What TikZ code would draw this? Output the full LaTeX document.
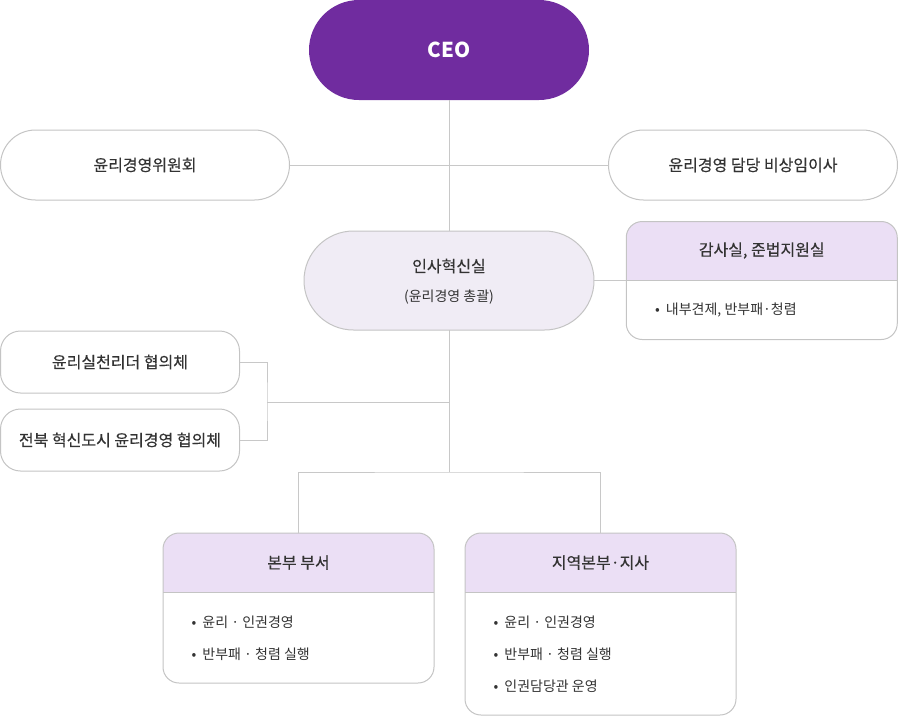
\documentclass[tikz,border=0pt]{standalone}
\usepackage{fontspec}
\setmainfont{Noto Sans CJK KR}
\newfontfamily\medfont[FakeBold=0.35]{Noto Sans CJK KR}
\usetikzlibrary{shapes.misc}
\definecolor{ceoc}{HTML}{702C9F}
\definecolor{ln}{HTML}{C8C8C8}
\definecolor{bd}{HTML}{C4C4C4}
\definecolor{tx}{HTML}{333333}
\definecolor{hrfill}{HTML}{F0ECF5}
\definecolor{hdr}{HTML}{EBDFF5}
\tikzset{
  pill/.style={rounded rectangle, draw=bd, line width=1pt, fill=white, inner sep=0pt, outer sep=0pt, text=tx, font=\medfont\fontsize{16}{19}\selectfont},
  sqbox/.style={rectangle, rounded corners=20pt, draw=bd, line width=1pt, fill=white, inner sep=0pt, outer sep=0pt, text=tx, font=\medfont\fontsize{16}{19}\selectfont, minimum width=239pt, minimum height=62pt},
  card/.style={rectangle, draw=bd, line width=1pt, fill=white, rounded corners=16pt, inner sep=0pt, outer sep=0pt, minimum width=271pt,
    path picture={\fill[hdr, sharp corners] (path picture bounding box.north west) rectangle ([yshift=-59pt]path picture bounding box.north east);
      \draw[bd, line width=1pt, sharp corners] ([yshift=-59pt]path picture bounding box.north west) -- ([yshift=-59pt]path picture bounding box.north east);}},
  title/.style={text=tx, font=\medfont\fontsize{16}{19}\selectfont, inner sep=0pt},
  item/.style={text=tx, font=\fontsize{14}{17}\selectfont, inner sep=0pt, anchor=west},
  conn/.style={draw=ln, line width=1pt}
}
\newcommand{\bul}{\textbullet\hspace{6pt}}
\begin{document}
\begin{tikzpicture}[x=1pt,y=-1pt]
\useasboundingbox (0,0) rectangle (898,716);
% nodes
\node[rounded rectangle, fill=ceoc, minimum width=280pt, minimum height=100pt, inner sep=0pt, outer sep=0pt, text=white, font=\fontsize{20.5}{24}\selectfont\bfseries] (ceo) at (449,50) {CEO};
\node[pill, minimum width=289pt, minimum height=70pt] (com) at (145,165) {윤리경영위원회};
\node[pill, minimum width=289pt, minimum height=70pt] (dir) at (753,165) {윤리경영 담당 비상임이사};
\node[pill, fill=hrfill, minimum width=290pt, minimum height=99pt] (hr) at (449,280.5) {};
\node[title] (hrt) at (449,266) {인사혁신실};
\node[text=tx, inner sep=0pt, font=\fontsize{14}{17}\selectfont] (hrs) at (449,297) {(윤리경영 총괄)};
\node[card, minimum height=118pt] (aud) at (761.75,280.5) {};
\node[title] (audt) at (761.75,250.5) {감사실, 준법지원실};
\node[item] (aud1) at (655,310) {\bul 내부견제, 반부패·청렴};
\node[sqbox] (lead) at (120,362) {윤리실천리더 협의체};
\node[sqbox] (jb) at (120,440) {전북 혁신도시 윤리경영 협의체};
\node[card, minimum height=150pt] (hq) at (298.5,608) {};
\node[title] (hqt) at (298.5,562.5) {본부 부서};
\node[item] (hq1) at (191.5,622) {\bul 윤리 · 인권경영};
\node[item] (hq2) at (191.5,654) {\bul 반부패 · 청렴 실행};
\node[card, minimum height=182pt] (reg) at (600.5,624) {};
\node[title] (regt) at (600.5,562.5) {지역본부·지사};
\node[item] (reg1) at (493.5,622) {\bul 윤리 · 인권경영};
\node[item] (reg2) at (493.5,654) {\bul 반부패 · 청렴 실행};
\node[item] (reg3) at (493.5,686) {\bul 인권담당관 운영};
% coordinates
\coordinate (br) at (267,402);
\coordinate (mid) at (449,402);
\coordinate (split) at (449,472);
% connectors
\draw[conn] (ceo.south) -- (hr.north);
\draw[conn] (com.east) -- (dir.west);
\draw[conn] (hr.east) -- (aud.west);
\draw[conn] (hr.south) -- (split);
\draw[conn] (lead.east) -| (br) |- (jb.east);
\draw[conn] (br) -- (mid);
\draw[conn] (hq.north) |- (split) -| (reg.north);
\end{tikzpicture}
\end{document}
